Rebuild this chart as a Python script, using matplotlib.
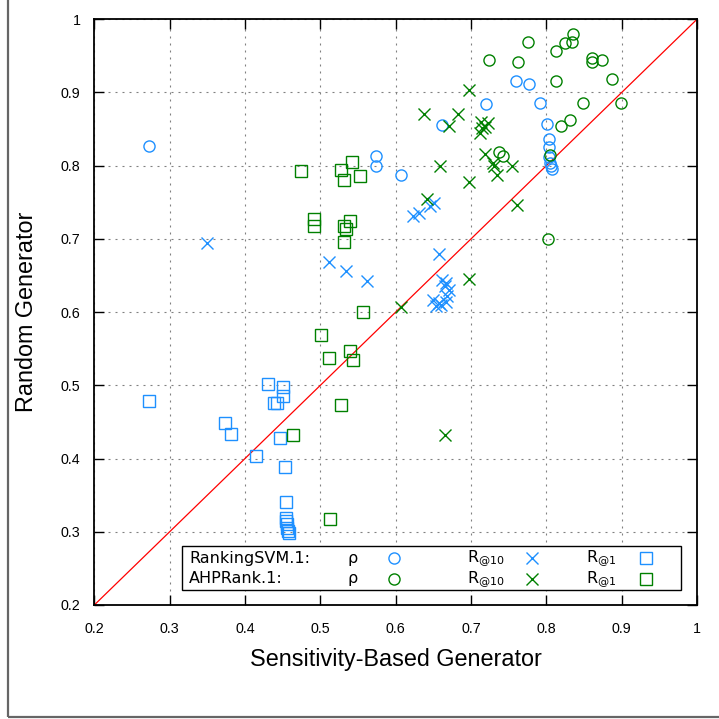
import matplotlib
matplotlib.use("Agg")
import matplotlib.pyplot as plt
from matplotlib.patches import Rectangle

# RankingSVM.1 (blue) and AHPRank.1 (green): (sensitivity-based, random)
svm_rho_x = [0.272, 0.574, 0.574, 0.607, 0.662, 0.720, 0.760, 0.777, 0.792, 0.801,
             0.804, 0.803, 0.804, 0.805, 0.806, 0.808]
svm_rho_y = [0.827, 0.813, 0.800, 0.787, 0.855, 0.884, 0.916, 0.912, 0.886, 0.857,
             0.837, 0.825, 0.812, 0.803, 0.799, 0.796]

svm_r10_x = [0.349, 0.511, 0.534, 0.562, 0.623, 0.631, 0.645, 0.651, 0.657, 0.662,
             0.667, 0.665, 0.671, 0.649, 0.658, 0.667, 0.654, 0.660, 0.668]
svm_r10_y = [0.695, 0.669, 0.656, 0.642, 0.731, 0.736, 0.745, 0.749, 0.680, 0.644,
             0.640, 0.635, 0.630, 0.617, 0.612, 0.614, 0.608, 0.610, 0.622]

svm_r1_x = [0.272, 0.431, 0.450, 0.451, 0.439, 0.443, 0.373, 0.382, 0.447, 0.415,
            0.453, 0.454, 0.454, 0.455, 0.456, 0.456, 0.457, 0.459]
svm_r1_y = [0.479, 0.502, 0.498, 0.485, 0.476, 0.476, 0.449, 0.434, 0.428, 0.403,
            0.388, 0.341, 0.319, 0.315, 0.310, 0.305, 0.301, 0.298]

ahp_rho_x = [0.776, 0.724, 0.762, 0.813, 0.825, 0.834, 0.836, 0.860, 0.861, 0.874,
             0.813, 0.887, 0.849, 0.899, 0.819, 0.832, 0.737, 0.742, 0.805, 0.802]
ahp_rho_y = [0.969, 0.945, 0.941, 0.956, 0.967, 0.969, 0.980, 0.947, 0.941, 0.945,
             0.915, 0.918, 0.885, 0.885, 0.854, 0.862, 0.819, 0.813, 0.814, 0.700]

ahp_r10_x = [0.697, 0.638, 0.683, 0.671, 0.713, 0.722, 0.715, 0.718, 0.712, 0.659,
             0.697, 0.719, 0.729, 0.731, 0.734, 0.754, 0.641, 0.761, 0.698, 0.666, 0.607]
ahp_r10_y = [0.904, 0.871, 0.871, 0.854, 0.859, 0.858, 0.851, 0.853, 0.845, 0.799,
             0.778, 0.816, 0.803, 0.799, 0.787, 0.800, 0.754, 0.746, 0.645, 0.432, 0.607]

ahp_r1_x = [0.474, 0.542, 0.527, 0.531, 0.552, 0.492, 0.491, 0.532, 0.539, 0.534,
            0.532, 0.556, 0.501, 0.512, 0.539, 0.543, 0.528, 0.464, 0.513]
ahp_r1_y = [0.793, 0.805, 0.794, 0.780, 0.786, 0.727, 0.717, 0.718, 0.724, 0.714,
            0.696, 0.600, 0.569, 0.538, 0.547, 0.534, 0.473, 0.432, 0.318]

ticks = [0.2, 0.3, 0.4, 0.5, 0.6, 0.7, 0.8, 0.9, 1.0]
tick_labels = ["0.2", "0.3", "0.4", "0.5", "0.6", "0.7", "0.8", "0.9", "1"]

BLUE = "#1e90ff"
GREEN = "#008000"

fig = plt.figure(figsize=(7.19, 7.19), dpi=100)
ax = fig.add_axes([0.1312, 0.1586, 0.9694 - 0.1312, 0.9732 - 0.1586])

# outer frame (only left and bottom edges fall inside the picture)
fig.add_artist(Rectangle((8 / 719, 2 / 719), 1.2, 1.2, transform=fig.transFigure,
                         fill=False, edgecolor="#666666", linewidth=1.6))

ax.plot([0.2, 1.0], [0.2, 1.0], color="red", linewidth=0.9, zorder=2)

mk = dict(linestyle="none", markersize=8, markeredgewidth=1.0,
          markerfacecolor="none", zorder=3)
ax.plot(svm_rho_x, svm_rho_y, marker="o", color=BLUE, **mk)
ax.plot(svm_r10_x, svm_r10_y, marker="x", color=BLUE, **mk)
ax.plot(svm_r1_x, svm_r1_y, marker="s", color=BLUE, **mk)
ax.plot(ahp_rho_x, ahp_rho_y, marker="o", color=GREEN, **mk)
ax.plot(ahp_r10_x, ahp_r10_y, marker="x", color=GREEN, **mk)
ax.plot(ahp_r1_x, ahp_r1_y, marker="s", color=GREEN, **mk)

ax.set_xlim(0.2, 1.0)
ax.set_ylim(0.2, 1.0)
ax.set_xticks(ticks)
ax.set_yticks(ticks)
ax.set_xticklabels(tick_labels, family="Liberation Sans", fontsize=10.3)
ax.set_yticklabels(tick_labels, family="Liberation Sans", fontsize=10.3)
ax.tick_params(direction="in", length=7, width=1, top=True, right=True, pad=12)
ax.tick_params(axis="y", pad=10)

for s in ax.spines.values():
    s.set_linewidth(1.3)

ax.grid(True, color="#808080", linewidth=0.8, linestyle=(0, (1.8, 4.5)))
ax.set_axisbelow(True)

ax.set_xlabel("Sensitivity-Based Generator", family="Liberation Sans", fontsize=16.8, labelpad=9)
ax.set_ylabel("Random Generator", family="Liberation Sans", fontsize=16.8, labelpad=16)

# legend panel
ax.add_patch(Rectangle((0.145, 0.0261), 0.9735 - 0.145, 0.1012 - 0.0261,
                       transform=ax.transAxes, facecolor="white",
                       edgecolor="black", linewidth=1.0, zorder=5))
rows = [("RankingSVM.1:", BLUE, 0.0797), ("AHPRank.1:", GREEN, 0.0444)]
tk = dict(transform=ax.transAxes, fontsize=11.5, va="center", zorder=6,
          family="DejaVu Sans")
for name, col, yy in rows:
    ax.text(0.1576, yy, name, ha="left", **tk)
    ax.text(0.4287, yy, "ρ", ha="center", **tk)
    ax.text(0.6179, yy, r"R$_{\mathregular{@10}}$", ha="left", **tk)
    ax.text(0.8158, yy, r"R$_{\mathregular{@1}}$", ha="left", **tk)
    for xx, m in [(0.4973, "o"), (0.7257, "x"), (0.9154, "s")]:
        ax.plot([xx], [yy], marker=m, color=col, transform=ax.transAxes,
                linestyle="none", markersize=8, markeredgewidth=1.0,
                markerfacecolor="none", zorder=6, clip_on=False)

fig.savefig("out.png", dpi=100)
